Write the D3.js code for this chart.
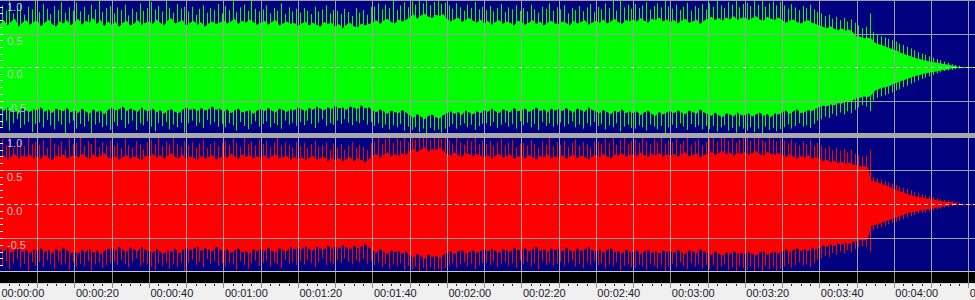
<!DOCTYPE html>
<html><head><meta charset="utf-8">
<script src="https://cdn.jsdelivr.net/npm/d3@7/dist/d3.min.js"></script>
<style>html,body{margin:0;padding:0;background:#f0f0f0;overflow:hidden}svg{display:block}</style>
</head><body>
<svg id="chart" width="975" height="300"></svg>
<script>
// ---- DATA: amplitude envelopes, one value per second (t = 0..257 s) ----
// body = solid part of the waveform, peak = spike reached in that second
const seconds = d3.range(0, 258);
const greenBodyPos = [
.64,.70,.62,.68,.72,.60,.66,.70,.63,.67, .69,.61,.66,.71,.64,.60,.68,.65,.70,.62,
.67,.72,.63,.69,.66,.73,.64,.70,.61,.68, .63,.67,.60,.66,.69,.62,.65,.70,.63,.66,
.68,.64,.71,.66,.62,.69,.73,.65,.67,.70, .62,.66,.69,.63,.67,.60,.65,.68,.64,.66,
.70,.65,.68,.72,.64,.69,.66,.71,.67,.63, .66,.69,.63,.67,.70,.62,.65,.68,.64,.66,
.61,.65,.68,.62,.66,.63,.60,.67,.64,.66, .60,.64,.58,.63,.66,.61,.59,.65,.62,.64,
.66,.70,.64,.69,.72,.67,.65,.71,.68,.70, .74,.79,.72,.77,.80,.75,.73,.78,.76,.79,
.72,.68,.71,.74,.67,.70,.73,.69,.66,.71, .65,.69,.63,.67,.70,.64,.68,.66,.62,.69,
.67,.63,.66,.70,.64,.68,.62,.66,.69,.65, .64,.68,.66,.62,.69,.65,.67,.70,.63,.66,
.69,.66,.71,.65,.68,.72,.67,.64,.70,.68, .71,.68,.73,.69,.66,.72,.70,.74,.68,.71,
.67,.70,.65,.69,.72,.66,.68,.71,.64,.69, .72,.75,.70,.73,.69,.74,.71,.76,.70,.73,
.74,.70,.73,.76,.71,.69,.75,.72,.70,.74, .70,.66,.69,.71,.67,.65,.68,.70,.66,.64,
.62,.60,.58,.61,.57,.55,.58,.54,.56,.52, .46,.45,.43,.44,.42,.36,.34,.32,.30,.28,
.26,.24,.21,.19,.17,.15,.13,.12,.10,.09, .08,.07,.06,.05,.04,.03,.02,.01];
const greenPeakPos = [
.92,.84,.98,.80,.88,.95,.78,.90,.86,1.0, .82,.94,.87,.79,.91,.85,.97,.81,.89,.84,
.96,.83,.90,.78,.93,.86,.99,.82,.88,.91, .80,.89,.85,.93,.77,.87,.82,.95,.84,.88,
.97,.86,.91,.83,1.0,.88,.81,.94,.87,.90, .83,.90,.78,.87,.92,.81,.88,.85,.94,.80,
.91,.85,.98,.82,.89,.93,.84,1.0,.87,.83, .86,.92,.80,.88,.84,.95,.79,.89,.83,.87,
.81,.88,.84,.79,.90,.83,.86,.92,.80,.85, .84,.79,.87,.82,.76,.88,.81,.85,.78,.90,
.90,.95,.86,.93,.88,.99,.85,.92,.97,.89, .98,.93,1.0,.95,.99,.92,.97,1.0,.94,.96,
.92,.87,.95,.89,.84,.93,.88,.97,.86,.90, .85,.91,.83,.88,.94,.82,.89,.86,.92,.84,
.88,.83,.93,.86,.81,.90,.87,.95,.84,.89, .86,.92,.80,.88,.85,.91,.83,.89,.94,.82,
.90,.86,.95,.88,.99,.84,1.0,.89,.93,.87, .94,.88,.92,.97,.86,.91,.95,.89,.99,.90,
.87,.93,.85,.90,.96,.84,.91,.88,.94,.86, .95,.90,1.0,.92,.88,.97,.93,.99,.89,.94,
.96,.91,.99,.93,1.0,.90,.95,.98,.92,.97, .92,.87,.94,.89,.85,.91,.88,.93,.86,.82,
.80,.76,.78,.72,.75,.70,.73,.68,.71,.66, .62,.58,.60,.80,.52,.48,.46,.44,.42,.40,
.38,.35,.33,.30,.28,.25,.22,.20,.18,.16, .14,.12,.10,.08,.06,.04,.03,.02];
const greenBodyNeg = [
-.62,-.66,-.60,-.68,-.64,-.70,-.61,-.65,-.67,-.63, -.65,-.60,-.67,-.63,-.69,-.62,-.64,-.66,-.61,-.68,
-.64,-.69,-.62,-.66,-.70,-.63,-.67,-.65,-.71,-.64, -.61,-.65,-.63,-.59,-.66,-.62,-.64,-.67,-.60,-.65,
-.66,-.62,-.68,-.64,-.70,-.65,-.63,-.67,-.69,-.64, -.60,-.64,-.62,-.66,-.61,-.65,-.63,-.59,-.64,-.62,
-.67,-.63,-.69,-.65,-.62,-.68,-.66,-.64,-.70,-.65, -.63,-.66,-.61,-.65,-.68,-.62,-.64,-.67,-.63,-.65,
-.60,-.63,-.66,-.61,-.64,-.59,-.62,-.65,-.60,-.63, -.58,-.62,-.60,-.64,-.59,-.61,-.63,-.57,-.62,-.60,
-.64,-.68,-.63,-.66,-.70,-.65,-.67,-.69,-.64,-.68, -.72,-.76,-.70,-.74,-.78,-.73,-.71,-.75,-.77,-.72,
-.69,-.66,-.70,-.67,-.72,-.65,-.68,-.71,-.66,-.69, -.64,-.67,-.62,-.66,-.69,-.63,-.65,-.68,-.61,-.66,
-.65,-.62,-.67,-.64,-.60,-.66,-.63,-.68,-.62,-.65, -.63,-.66,-.61,-.65,-.68,-.62,-.64,-.67,-.60,-.64,
-.66,-.69,-.64,-.67,-.71,-.65,-.68,-.63,-.69,-.66, -.69,-.66,-.72,-.68,-.65,-.70,-.73,-.67,-.71,-.68,
-.66,-.69,-.64,-.68,-.71,-.65,-.67,-.70,-.63,-.68, -.70,-.73,-.68,-.72,-.75,-.69,-.71,-.74,-.68,-.72,
-.72,-.69,-.74,-.71,-.68,-.73,-.70,-.75,-.69,-.71, -.68,-.65,-.70,-.66,-.63,-.69,-.67,-.64,-.66,-.62,
-.60,-.58,-.59,-.56,-.57,-.54,-.55,-.52,-.53,-.50, -.47,-.46,-.44,-.45,-.42,-.35,-.33,-.31,-.30,-.28,
-.25,-.23,-.21,-.19,-.17,-.15,-.13,-.12,-.10,-.09, -.08,-.07,-.06,-.05,-.04,-.03,-.02,-.01];
const greenPeakNeg = [
-.88,-.80,-.95,-.84,-.78,-.91,-.86,-.82,-.97,-.85, -.83,-.90,-.79,-.87,-.93,-.81,-.86,-.99,-.84,-.80,
-.92,-.85,-.89,-.81,-1.0,-.86,-.83,-.90,-.87,-.94, -.82,-.88,-.79,-.91,-.85,-.80,-.94,-.84,-.87,-.81,
-.89,-.96,-.84,-.88,-.82,-.93,-.86,-.90,-.83,-.98, -.84,-.80,-.88,-.83,-.91,-.79,-.86,-.82,-.89,-.85,
-.90,-.84,-.87,-.95,-.82,-.88,-.93,-.85,-.81,-.89, -.85,-.81,-.90,-.84,-.87,-.92,-.80,-.86,-.83,-.88,
-.82,-.87,-.80,-.85,-.91,-.83,-.78,-.88,-.84,-.86, -.80,-.85,-.78,-.83,-.87,-.81,-.84,-.79,-.86,-.82,
-.88,-.84,-.91,-.86,-.93,-.87,-.90,-.85,-.95,-.89, -.94,-.90,-.97,-.92,-.99,-.91,-.95,-.93,-.98,-.92,
-.89,-.85,-.92,-.87,-.84,-.90,-.86,-.94,-.88,-.85, -.84,-.88,-.82,-.91,-.86,-.83,-.89,-.85,-.92,-.81,
-.87,-.83,-.90,-.85,-.94,-.82,-.88,-.84,-.89,-.86, -.83,-.89,-.85,-.81,-.90,-.86,-.92,-.84,-.88,-.82,
-.88,-.85,-.93,-.87,-.90,-.84,-.96,-.89,-.86,-.91, -.92,-.87,-.90,-.95,-.86,-.89,-.93,-.88,-1.0,-.90,
-.86,-.91,-.84,-.89,-.94,-.85,-.90,-.87,-.93,-.88, -.93,-.88,-.96,-.90,-.87,-.95,-.91,-.98,-.89,-.92,
-.95,-.90,-.97,-.92,-.99,-.89,-.94,-.91,-.96,-.93, -.90,-.86,-.92,-.88,-.84,-.89,-.87,-.91,-.85,-.80,
-.78,-.74,-.76,-.70,-.73,-.68,-.71,-.66,-.69,-.64, -.60,-.57,-.59,-.66,-.50,-.46,-.44,-.42,-.40,-.38,
-.35,-.33,-.30,-.28,-.25,-.23,-.20,-.18,-.16,-.14, -.12,-.10,-.08,-.06,-.05,-.04,-.03,-.02];
const redBodyPos = [
.68,.72,.65,.70,.74,.66,.71,.69,.73,.67, .70,.66,.72,.68,.64,.71,.69,.73,.67,.70,
.72,.68,.74,.70,.66,.73,.69,.71,.75,.68, .67,.71,.65,.69,.72,.66,.70,.68,.64,.71,
.70,.74,.68,.72,.66,.71,.75,.69,.67,.73, .66,.70,.68,.64,.71,.67,.69,.72,.65,.68,
.71,.68,.74,.70,.66,.73,.69,.72,.67,.70, .68,.72,.66,.70,.73,.67,.69,.71,.65,.69,
.66,.69,.64,.68,.71,.65,.67,.70,.63,.68, .64,.68,.62,.66,.69,.63,.67,.65,.61,.66,
.70,.74,.68,.72,.76,.70,.73,.71,.75,.72, .78,.82,.76,.80,.84,.77,.81,.79,.83,.78,
.74,.71,.76,.72,.69,.75,.73,.70,.74,.71, .69,.72,.67,.71,.74,.68,.70,.73,.66,.70,
.70,.67,.72,.69,.65,.71,.68,.73,.67,.70, .68,.72,.66,.70,.73,.67,.71,.69,.65,.70,
.72,.69,.74,.70,.67,.73,.71,.75,.69,.72, .73,.70,.76,.72,.69,.74,.71,.75,.70,.73,
.71,.74,.69,.73,.76,.70,.72,.75,.68,.72, .74,.77,.72,.75,.78,.73,.76,.71,.75,.74,
.76,.72,.75,.78,.73,.71,.77,.74,.72,.75, .72,.69,.73,.70,.67,.71,.68,.72,.66,.69,
.66,.63,.65,.61,.64,.60,.62,.59,.61,.58, .57,.55,.56,.54,.34,.33,.31,.29,.27,.25,
.22,.20,.18,.16,.14,.12,.11,.10,.09,.08, .07,.06,.05,.04,.03,.03,.02,.01];
const redPeakPos = [
.95,.86,1.0,.82,.90,.93,.85,.98,.88,.91, .87,.94,.83,.99,.89,.85,.92,.80,.96,.88,
.90,.97,.85,.92,.88,1.0,.84,.91,.86,.94, .85,.90,.82,.96,.87,.83,.93,.88,.80,.91,
.94,.88,.99,.85,.92,.87,1.0,.89,.84,.93, .86,.91,.83,.89,.95,.82,.88,.92,.85,.90,
.93,.87,.96,.90,.84,1.0,.88,.92,.86,.95, .88,.93,.84,.90,.97,.85,.91,.87,.83,.92,
.85,.90,.82,.88,.93,.84,.87,.91,.80,.89, .83,.88,.80,.86,.91,.82,.87,.84,.79,.90,
.92,.97,.88,.95,1.0,.90,.96,.93,.99,.91, .99,.95,1.0,.97,1.0,.94,.98,1.0,.96,.99,
.94,.89,.97,.91,.87,.95,.92,.99,.88,.93, .88,.93,.85,.91,.96,.86,.90,.94,.84,.89,
.90,.86,.94,.88,.83,.92,.87,.97,.85,.91, .87,.93,.84,.90,.95,.86,.91,.88,.83,.92,
.92,.88,.96,.90,1.0,.87,.94,.99,.89,.93, .95,.90,.98,.92,.88,.96,.91,1.0,.89,.94,
.91,.96,.88,.93,.99,.87,.92,.95,.86,.91, .96,.99,.92,.97,1.0,.93,.98,.90,.95,.97,
.98,.93,.97,1.0,.94,.91,.99,.95,.92,.96, .93,.89,.95,.90,.86,.92,.88,.94,.85,.90,
.86,.82,.85,.79,.83,.78,.81,.76,.80,.74, .72,.70,.71,.80,.40,.38,.36,.34,.32,.30,
.28,.26,.24,.22,.20,.18,.16,.14,.13,.12, .10,.09,.07,.06,.05,.04,.03,.02];
const redBodyNeg = [
-.66,-.70,-.64,-.72,-.68,-.65,-.71,-.67,-.73,-.66, -.69,-.65,-.71,-.67,-.73,-.66,-.70,-.64,-.68,-.72,
-.70,-.73,-.67,-.71,-.65,-.72,-.68,-.74,-.69,-.66, -.65,-.69,-.63,-.68,-.71,-.64,-.67,-.70,-.62,-.68,
-.69,-.72,-.66,-.70,-.74,-.67,-.71,-.65,-.73,-.68, -.64,-.68,-.66,-.62,-.69,-.65,-.67,-.70,-.63,-.66,
-.70,-.66,-.72,-.68,-.65,-.71,-.69,-.73,-.66,-.70, -.66,-.70,-.64,-.69,-.71,-.65,-.68,-.70,-.63,-.67,
-.64,-.67,-.62,-.66,-.69,-.63,-.65,-.68,-.61,-.66, -.62,-.66,-.60,-.64,-.67,-.61,-.65,-.63,-.59,-.64,
-.68,-.72,-.66,-.70,-.74,-.68,-.71,-.69,-.73,-.70, -.75,-.79,-.73,-.77,-.81,-.74,-.78,-.76,-.80,-.75,
-.72,-.69,-.74,-.70,-.67,-.73,-.71,-.68,-.72,-.69, -.67,-.70,-.65,-.69,-.72,-.66,-.68,-.71,-.64,-.68,
-.68,-.65,-.70,-.67,-.63,-.69,-.66,-.71,-.65,-.68, -.66,-.70,-.64,-.68,-.71,-.65,-.69,-.67,-.63,-.68,
-.70,-.67,-.72,-.68,-.65,-.71,-.69,-.73,-.67,-.70, -.71,-.68,-.74,-.70,-.67,-.72,-.69,-.73,-.68,-.71,
-.69,-.72,-.67,-.71,-.74,-.68,-.70,-.73,-.66,-.70, -.72,-.75,-.70,-.73,-.76,-.71,-.74,-.69,-.73,-.72,
-.74,-.70,-.73,-.76,-.71,-.69,-.75,-.72,-.70,-.73, -.70,-.67,-.71,-.68,-.65,-.69,-.66,-.70,-.64,-.67,
-.64,-.61,-.63,-.59,-.62,-.58,-.60,-.57,-.59,-.56, -.55,-.53,-.54,-.52,-.32,-.31,-.29,-.27,-.25,-.23,
-.21,-.19,-.17,-.15,-.13,-.12,-.11,-.10,-.09,-.08, -.07,-.06,-.05,-.04,-.03,-.02,-.02,-.01];
const redPeakNeg = [
-.90,-.84,-.96,-.87,-.81,-.93,-.88,-.99,-.85,-.91, -.86,-.92,-.83,-.89,-.95,-.84,-.90,-.87,-.97,-.85,
-.93,-.88,-.91,-.84,-.98,-.89,-.86,-.94,-.90,-.87, -.84,-.90,-.82,-.88,-.93,-.85,-.80,-.91,-.86,-.89,
-.92,-.97,-.87,-.91,-.85,-.95,-.89,-.93,-.86,-1.0, -.86,-.82,-.90,-.85,-.93,-.81,-.88,-.84,-.91,-.87,
-.92,-.86,-.89,-.97,-.84,-.90,-.95,-.87,-.83,-.91, -.87,-.83,-.92,-.86,-.89,-.94,-.82,-.88,-.85,-.90,
-.84,-.89,-.82,-.87,-.93,-.85,-.80,-.90,-.86,-.88, -.82,-.87,-.80,-.85,-.89,-.83,-.86,-.81,-.88,-.84,
-.90,-.86,-.93,-.88,-.95,-.89,-.92,-.87,-.97,-.91, -.96,-.92,-.99,-.94,-1.0,-.93,-.97,-.95,-1.0,-.94,
-.91,-.87,-.94,-.89,-.86,-.92,-.88,-.96,-.90,-.87, -.86,-.90,-.84,-.93,-.88,-.85,-.91,-.87,-.94,-.83,
-.89,-.85,-.92,-.87,-.96,-.84,-.90,-.86,-.91,-.88, -.85,-.91,-.87,-.83,-.92,-.88,-.94,-.86,-.90,-.84,
-.90,-.87,-.95,-.89,-.92,-.86,-.98,-.91,-.88,-.93, -.94,-.89,-.92,-.97,-.88,-.91,-.95,-.90,-1.0,-.92,
-.88,-.93,-.86,-.91,-.96,-.87,-.92,-.89,-.95,-.90, -.95,-.90,-.98,-.92,-.89,-.97,-.93,-1.0,-.91,-.94,
-.97,-.92,-.99,-.94,-1.0,-.91,-.96,-.93,-.98,-.95, -.92,-.88,-.94,-.90,-.86,-.91,-.89,-.93,-.87,-.82,
-.80,-.76,-.78,-.72,-.75,-.70,-.73,-.68,-.71,-.66, -.64,-.62,-.63,-.70,-.38,-.36,-.34,-.32,-.30,-.28,
-.26,-.24,-.22,-.20,-.18,-.16,-.14,-.13,-.12,-.11, -.09,-.08,-.07,-.05,-.04,-.03,-.02,-.01];

const ampTicks = [1.0, 0.5, 0.0, -0.5];
const ampTickLabels = ["1.0", "0.5", "0.0", "-0.5"];
const timeLabelSecs = [0,20,40,60,80,100,120,140,160,180,200,220,240,260];
const timeLabels = ["00:00:00","00:00:20","00:00:40","00:01:00","00:01:20","00:01:40","00:02:00","00:02:20","00:02:40","00:03:00","00:03:20","00:03:40","00:04:00","0"];

// ---- CHART ----
const W = 975, H = 300;
const svg = d3.select("#chart");
const x = d3.scaleLinear().domain([0, 261.8]).range([0, W]);
const panels = [
  {y: d3.scaleLinear().domain([-1,1]).range([134,0]), top:0, bottom:134, color:"#00ff00",
   bp:greenBodyPos, bn:greenBodyNeg, pp:greenPeakPos, pn:greenPeakNeg, id:"g"},
  {y: d3.scaleLinear().domain([-1,1]).range([272,136]), top:136, bottom:272, color:"#ff0000",
   bp:redBodyPos, bn:redBodyNeg, pp:redPeakPos, pn:redPeakNeg, id:"r"}
];
const GRID = "#a0a0a0";

svg.append("rect").attr("x",0).attr("y",0).attr("width",W).attr("height",272).attr("fill","#000080");

const defs = svg.append("defs");
panels.forEach(p => {
  defs.append("clipPath").attr("id","clip"+p.id).append("rect")
    .attr("x",0).attr("y",p.top).attr("width",W).attr("height",p.bottom-p.top);
  const g = svg.append("g").attr("clip-path","url(#clip"+p.id+")");
  g.append("line").attr("x1",x(0)).attr("x2",W).attr("y1",p.y(0)+0.5).attr("y2",p.y(0)+0.5)
    .attr("stroke",p.color).attr("stroke-width",1);
  const area = d3.area().x(d=>x(d)).y0((d,i)=>p.y(p.bn[i])).y1((d,i)=>p.y(p.bp[i]));
  g.append("path").attr("d", area(seconds)).attr("fill", p.color);
  g.selectAll("line.pk").data(seconds).join("line").attr("class","pk")
    .attr("x1",d=>Math.round(x(d+0.5))+0.5).attr("x2",d=>Math.round(x(d+0.5))+0.5)
    .attr("y1",(d,i)=>p.y(p.pn[i])).attr("y2",(d,i)=>p.y(p.pp[i]))
    .attr("stroke",p.color).attr("stroke-width",1);
});

const gridSecs = d3.range(10, 262, 10);
svg.selectAll("line.vg").data(gridSecs).join("line").attr("class","vg")
  .attr("x1",d=>Math.round(x(d))+0.5).attr("x2",d=>Math.round(x(d))+0.5)
  .attr("y1",0).attr("y2",272).attr("stroke",GRID).attr("stroke-width",1);

panels.forEach(p => {
  [0.5,-0.5].forEach(v => {
    svg.append("line").attr("x1",0).attr("x2",W).attr("y1",Math.round(p.y(v))+0.5).attr("y2",Math.round(p.y(v))+0.5)
      .attr("stroke",GRID).attr("stroke-width",1);
  });
  svg.append("line").attr("x1",0).attr("x2",W).attr("y1",Math.round(p.y(0))+0.5).attr("y2",Math.round(p.y(0))+0.5)
    .attr("stroke","#d8d8d8").attr("stroke-width",1).attr("stroke-dasharray","4,3");
  const lt = d3.range(-9, 10).map(k => k/10);
  svg.selectAll(null).data(lt).join("line")
    .attr("x1",0).attr("x2",3).attr("y1",d=>Math.round(p.y(d))+0.5).attr("y2",d=>Math.round(p.y(d))+0.5)
    .attr("stroke","#ffffff").attr("stroke-width",1);
  svg.selectAll(null).data(ampTicks).join("text")
    .attr("x",7).attr("y",d=>p.y(d)+11)
    .attr("fill","#c0c0c0").attr("font-family","Liberation Sans, Arial, sans-serif").attr("font-size",11)
    .text((d,i)=>ampTickLabels[i]);
});

svg.append("rect").attr("x",0).attr("y",0).attr("width",W).attr("height",1).attr("fill",GRID);
svg.append("rect").attr("x",0).attr("y",133).attr("width",W).attr("height",5).attr("fill","#a8a8a8");

svg.append("rect").attr("x",0).attr("y",271).attr("width",W).attr("height",1).attr("fill","#c8c8c8");
svg.append("rect").attr("x",0).attr("y",272).attr("width",W).attr("height",11).attr("fill","#000000");
svg.append("rect").attr("x",0).attr("y",283).attr("width",W).attr("height",1).attr("fill","#d8d8d8");
svg.selectAll("line.vt").data(gridSecs).join("line").attr("class","vt")
  .attr("x1",d=>Math.round(x(d))+0.5).attr("x2",d=>Math.round(x(d))+0.5)
  .attr("y1",272).attr("y2",288).attr("stroke","#909090").attr("stroke-width",1);
const minorSecs = d3.range(0, 262, 2.5).filter(s => s % 10 !== 0);
svg.selectAll("line.mt").data(minorSecs).join("line").attr("class","mt")
  .attr("x1",d=>Math.round(x(d))+0.5).attr("x2",d=>Math.round(x(d))+0.5)
  .attr("y1",284).attr("y2",286).attr("stroke","#202020").attr("stroke-width",1);
svg.selectAll("text.tl").data(timeLabelSecs).join("text").attr("class","tl")
  .attr("x",d=>x(d)+1.5).attr("y",296.5)
  .attr("fill","#1a1a2a").attr("font-family","Liberation Sans, Arial, sans-serif").attr("font-size",11)
  .text((d,i)=>timeLabels[i]);
</script>
</body></html>
